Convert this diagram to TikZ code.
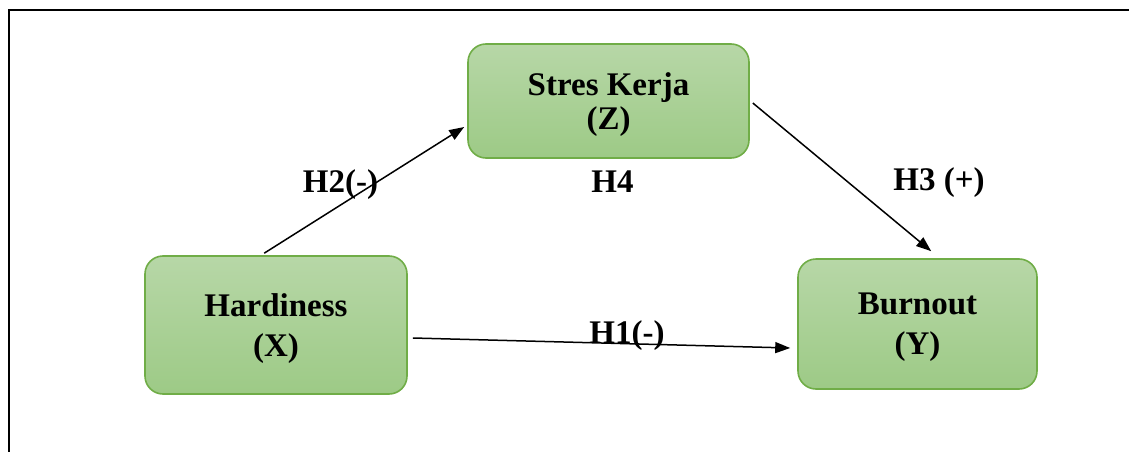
\documentclass[tikz,border=0pt]{standalone}
\usepackage{fontspec}
\setmainfont{Liberation Serif}
\usetikzlibrary{arrows.meta}
\definecolor{boxtop}{RGB}{183,215,167}
\definecolor{boxbot}{RGB}{157,202,134}
\definecolor{boxline}{RGB}{112,173,71}
\tikzset{
  box/.style={draw=boxline, line width=1.6pt, rounded corners=18pt,
    top color=boxtop, bottom color=boxbot, inner sep=0pt, align=center, text depth=0pt},
  arr/.style={line width=1.5pt, -{Triangle[length=15pt,width=11pt]}},
  lbl/.style={anchor=base, inner sep=0pt, font=\bfseries\fontsize{33}{40}\selectfont},
  frame/.style={line width=2pt}
}
\begin{document}
\begin{tikzpicture}[x=1pt,y=-1pt]
\useasboundingbox (0,0) rectangle (1129,452);
\draw[frame] (9,452) -- (9,10) -- (1129,10);
\node[box, minimum width=262pt, minimum height=138pt,
  font=\bfseries\fontsize{33}{40}\selectfont] (hard) at (276,325) {Hardiness\\(X)};
\node[box, minimum width=281pt, minimum height=114pt,
  font=\bfseries\fontsize{33}{34}\selectfont] (stres) at (608.5,101) {Stres Kerja\\(Z)};
\node[box, minimum width=239pt, minimum height=130pt,
  font=\bfseries\fontsize{33}{40}\selectfont] (burn) at (917.5,324) {Burnout\\(Y)};
\draw[arr] ([xshift=120pt,yshift=2pt]hard.north west) -- ([xshift=-3pt,yshift=-26pt]stres.west);
\draw[arr] ([xshift=3pt,yshift=-2pt]stres.east) -- ([xshift=134pt,yshift=7pt]burn.north west);
\draw[arr] ([xshift=5pt,yshift=-13pt]hard.east) -- ([xshift=-7pt,yshift=-24pt]burn.west);
\node[lbl] (h2) at (340.5,192) {H2(-)};
\node[lbl] (h4) at (612.5,192) {H4};
\node[lbl] (h3) at (939,190) {H3 (+)};
\node[lbl] (h1) at (627,343) {H1(-)};
\end{tikzpicture}
\end{document}
